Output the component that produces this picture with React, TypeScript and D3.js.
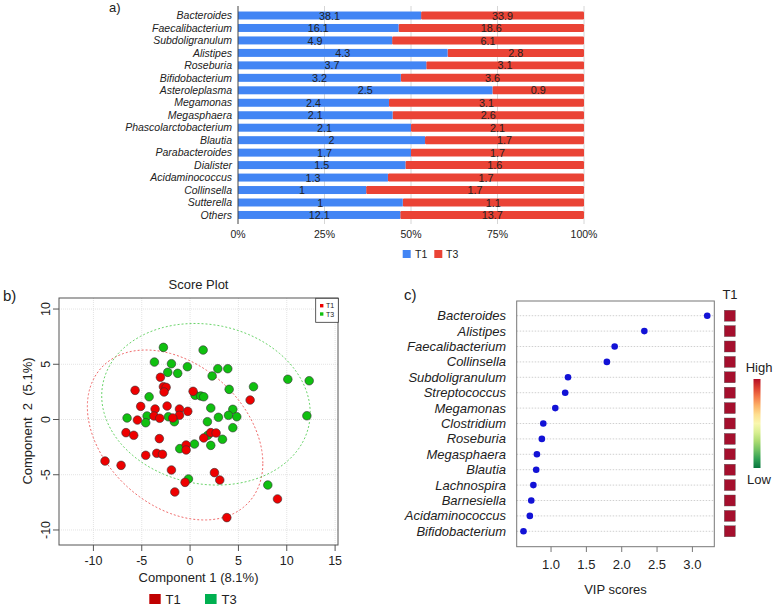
import React from "react";
import * as d3 from "d3";

// ---------- Panel a data ----------
const genera = [
  "Bacteroides", "Faecalibacterium", "Subdoligranulum", "Alistipes", "Roseburia",
  "Bifidobacterium", "Asteroleplasma", "Megamonas", "Megasphaera", "Phascolarctobacterium",
  "Blautia", "Parabacteroides", "Dialister", "Acidaminococcus", "Collinsella", "Sutterella", "Others",
];
const t1Values = [38.1, 16.1, 4.9, 4.3, 3.7, 3.2, 2.5, 2.4, 2.1, 2.1, 2, 1.7, 1.5, 1.3, 1, 1, 12.1];
const t3Values = [33.9, 18.6, 6.1, 2.8, 3.1, 3.6, 0.9, 3.1, 2.6, 2.1, 1.7, 1.7, 1.6, 1.7, 1.7, 1.1, 13.7];
const pctTicks = [0, 0.25, 0.5, 0.75, 1];

// ---------- Panel b data ----------
const t1Scores: [number, number][] = [
  [-3.07, 3.82], [-2.76, 2.97], [-2.48, 2.91], [-2.69, 2.49], [-5.69, 2.64], [0.31, 2.55],
  [6.21, 1.76], [-5.11, 1.19], [-2.38, 1.22], [-3.62, 0.95], [-1.1, 0.95], [-3.73, 0.32],
  [-3.14, 0.11], [-1.1, 0.38], [-0.24, 0.74], [-1.79, 0.14], [-5.45, -0.05], [-6.63, -1.19],
  [-5.83, -1.43], [-3.18, -1.73], [1.41, -1.67], [2.14, -1.19], [2.69, -1.22], [-4.59, -3.24],
  [-3.45, -3.06], [-2.86, -3.15], [-0.41, -2.31], [-0.41, -2.76], [-8.8, -3.76], [-7.14, -4.15],
  [-1.93, -4.57], [-0.52, -5.69], [-1.58, -6.56], [2.52, -4.81], [3.07, -5.48], [3.8, -8.88],
  [9.04, -7.19],
];
const t3Scores: [number, number][] = [
  [-2.76, 6.53], [1.35, 6.29], [-3.69, 5.2], [-1.93, 5.05], [-2.31, 4.27], [-1.28, 4.18],
  [-0.28, 4.78], [2.87, 4.6], [3.9, 4.6], [2.28, 3.94], [10.11, 3.64], [12.32, 3.51],
  [6.56, 2.97], [4.04, 2.73], [-4.24, 2.06], [0.52, 2.19], [1.1, 2.13], [1.41, 2.06],
  [2.14, 1.04], [4.42, 0.92], [3.97, 0.38], [4.83, 0.25], [2.93, 0.2], [12.08, 0.34],
  [-6.52, 0.14], [-4.45, 0.32], [-4.59, -0.29], [-2.25, 0.25], [-1.63, -0.2], [1.79, -0.2],
  [4.42, -0.74], [3.35, -1.79], [1.83, -1.43], [2.14, -2.34], [0.45, -2.22], [-1.07, -2.64],
  [-0.17, -5.38], [8.04, -5.93],
];
// confidence ellipses: centre and covariance (data units)
const t1Ellipse = { cx: -1.55, cy: -1.4, sxx: 82.4, syy: 59.2, sxy: -23.25 };
const t3Ellipse = { cx: 1.64, cy: 1.38, sxx: 116.3, syy: 53.5, sxy: -8.4 };
const scoreXTicks = [-10, -5, 0, 5, 10, 15];
const scoreYTicks = [-10, -5, 0, 5, 10];

// ---------- Panel c data ----------
const vipGenera = [
  "Bacteroides", "Alistipes", "Faecalibacterium", "Collinsella", "Subdoligranulum",
  "Streptococcus", "Megamonas", "Clostridium", "Roseburia", "Megasphaera", "Blautia",
  "Lachnospira", "Barnesiella", "Acidaminococcus", "Bifidobacterium",
];
const vipScores = [3.21, 2.32, 1.9, 1.79, 1.24, 1.2, 1.06, 0.89, 0.87, 0.8, 0.79, 0.75, 0.72, 0.7, 0.61];
const vipTicks = [1.0, 1.5, 2.0, 2.5, 3.0];

const FONT = "'Liberation Sans', Arial, sans-serif";
const BLUE = "#4285F4";
const RED = "#EA4335";

function ellipsePath(e: { cx: number; cy: number; sxx: number; syy: number; sxy: number },
  xs: d3.ScaleLinear<number, number>, ys: d3.ScaleLinear<number, number>) {
  const l11 = Math.sqrt(e.sxx);
  const l21 = e.sxy / l11;
  const l22 = Math.sqrt(e.syy - l21 * l21);
  const pts: [number, number][] = d3.range(0, 120).map((i) => {
    const t = (i / 120) * Math.PI * 2;
    return [xs(e.cx + l11 * Math.cos(t)), ys(e.cy + l21 * Math.cos(t) + l22 * Math.sin(t))];
  });
  return d3.line().curve(d3.curveLinearClosed)(pts) as string;
}

export default function App() {
  // Panel a scales
  const xA = d3.scaleLinear().domain([0, 1]).range([238, 584]);
  const yA = d3.scaleBand<string>().domain(genera).range([9.27, 221.2]).paddingInner(0.36).paddingOuter(0.18);

  // Panel b scales
  const xB = d3.scaleLinear().domain([-13.56, 15.3]).range([59, 338]);
  const yB = d3.scaleLinear().domain([-11.36, 11.0]).range([545, 298]);

  // Panel c scales
  const xC = d3.scaleLinear().domain([0.514, 3.31]).range([516.7, 714.3]);
  const yC = d3.scalePoint<string>().domain(vipGenera).range([315.7, 531.3]);

  const gradStops = d3.range(0, 11).map((i) => i / 10);

  return (
    <svg width={777} height={608} style={{ position: "absolute", left: 0, top: 0, background: "#fff" }}
      fontFamily={FONT}>
      <defs>
        <linearGradient id="rdylgn" x1="0" y1="0" x2="0" y2="1">
          {gradStops.map((s) => (
            <stop key={s} offset={s} stopColor={d3.interpolateRdYlGn(0.03 + s * 0.94)} />
          ))}
        </linearGradient>
      </defs>

      {/* ================= Panel a ================= */}
      <text x={109} y={12} fontSize={13} fill="#222">a)</text>
      {pctTicks.slice(1).map((t) => (
        <line key={t} x1={xA(t)} x2={xA(t)} y1={6} y2={224} stroke="#d6d6d6" strokeWidth={1} />
      ))}
      {genera.map((g, i) => {
        const p = t1Values[i] / (t1Values[i] + t3Values[i]);
        const y0 = yA(g) as number;
        const bw = yA.bandwidth();
        return (
          <g key={g}>
            <rect x={xA(p)} y={y0} width={xA(1) - xA(p)} height={bw} fill={RED} rx={1.2} />
            <rect x={xA(0)} y={y0} width={xA(p) - xA(0)} height={bw} fill={BLUE} />
            <text x={xA(0) - 6} y={y0 + bw / 2} dy="0.35em" textAnchor="end" fontSize={10.5}
              fontStyle="italic" fill="#222">{g}</text>
            <text x={(xA(0) + xA(p)) / 2} y={y0 + bw / 2} dy="0.38em" textAnchor="middle" fontSize={10.8}
              fill="#222">{t1Values[i]}</text>
            <text x={(xA(p) + xA(1)) / 2} y={y0 + bw / 2} dy="0.38em" textAnchor="middle" fontSize={10.8}
              fill="#222">{t3Values[i]}</text>
          </g>
        );
      })}
      <line x1={xA(0)} x2={xA(0)} y1={6} y2={224} stroke="#444" strokeWidth={1} />
      {pctTicks.map((t) => (
        <text key={t} x={xA(t)} y={238} textAnchor="middle" fontSize={10.5} fill="#222">
          {`${Math.round(t * 100)}%`}
        </text>
      ))}
      <rect x={402.7} y={250} width={8} height={8} fill={BLUE} />
      <text x={415} y={257.6} fontSize={10.5} fill="#222">T1</text>
      <rect x={434.3} y={250} width={8} height={8} fill={RED} />
      <text x={446} y={257.6} fontSize={10.5} fill="#222">T3</text>

      {/* ================= Panel b ================= */}
      <text x={3} y={301} fontSize={15} fill="#222">b)</text>
      <text x={198.5} y={289} textAnchor="middle" fontSize={13} fill="#222">Score Plot</text>
      {scoreXTicks.map((t) => (
        <line key={"gx" + t} x1={xB(t)} x2={xB(t)} y1={298} y2={545} stroke="#e3e3e3" strokeDasharray="1,1" />
      ))}
      {scoreYTicks.map((t) => (
        <line key={"gy" + t} x1={59} x2={338} y1={yB(t)} y2={yB(t)} stroke="#e3e3e3" strokeDasharray="1,1" />
      ))}
      <path d={ellipsePath(t1Ellipse, xB, yB)} fill="none" stroke="#f06a6a" strokeWidth={1} strokeDasharray="2,2" />
      <path d={ellipsePath(t3Ellipse, xB, yB)} fill="none" stroke="#6ad46a" strokeWidth={1} strokeDasharray="2,2" />
      {t3Scores.map(([x, y], i) => (
        <circle key={"g" + i} cx={xB(x)} cy={yB(y)} r={4.3} fill="#10c010" stroke="#333" strokeWidth={0.6} />
      ))}
      {t1Scores.map(([x, y], i) => (
        <circle key={"r" + i} cx={xB(x)} cy={yB(y)} r={4.3} fill="#ee0000" stroke="#333" strokeWidth={0.6} />
      ))}
      <rect x={59} y={298} width={279} height={247} fill="none" stroke="#555" strokeWidth={1} />
      {scoreXTicks.map((t) => (
        <g key={"xt" + t}>
          <line x1={xB(t)} x2={xB(t)} y1={545} y2={551} stroke="#555" />
          <text x={xB(t)} y={565} textAnchor="middle" fontSize={12.5} fill="#222">{t}</text>
        </g>
      ))}
      {scoreYTicks.map((t) => (
        <g key={"yt" + t}>
          <line x1={53} x2={59} y1={yB(t)} y2={yB(t)} stroke="#555" />
          <text transform={`translate(50,${yB(t)}) rotate(-90)`} textAnchor="middle" fontSize={12.5} fill="#222">{t}</text>
        </g>
      ))}
      <text x={198.5} y={582} textAnchor="middle" fontSize={13} fill="#222">Component 1 (8.1%)</text>
      <text transform="translate(32,421) rotate(-90)" textAnchor="middle" fontSize={13} fill="#222"
        style={{ whiteSpace: "pre" }}>{"Component  2  (5.1%)"}</text>
      {/* inner legend */}
      <rect x={315.7} y={298.3} width={22.6} height={24} fill="#fff" stroke="#333" strokeWidth={0.8} />
      <rect x={320} y={304} width={3.4} height={3.4} fill="#ee0000" />
      <text x={326} y={308.2} fontSize={7} fill="#222">T1</text>
      <rect x={320} y={312.3} width={3.4} height={3.4} fill="#10c010" />
      <text x={326} y={316.5} fontSize={7} fill="#222">T3</text>
      {/* bottom legend */}
      <rect x={149.3} y={594} width={11.4} height={10} fill="#C00000" />
      <text x={165.5} y={603.5} fontSize={13} fill="#222">T1</text>
      <rect x={205} y={594} width={11.6} height={10} fill="#00B050" />
      <text x={221.5} y={603.5} fontSize={13} fill="#222">T3</text>

      {/* ================= Panel c ================= */}
      <text x={404} y={300} fontSize={15} fill="#222">c)</text>
      {vipGenera.map((g) => (
        <line key={"cg" + g} x1={516.7} x2={714.3} y1={yC(g)} y2={yC(g)} stroke="#c4c4c4"
          strokeWidth={0.8} strokeDasharray="1.5,1.5" />
      ))}
      <rect x={516.7} y={301} width={197.6} height={245.7} fill="none" stroke="#777" strokeWidth={1} />
      {vipGenera.map((g, i) => (
        <g key={"cv" + g}>
          <text x={506} y={yC(g)} dy="0.35em" textAnchor="end" fontSize={13} fontStyle="italic" fill="#222">{g}</text>
          <circle cx={xC(vipScores[i])} cy={yC(g)} r={3.3} fill="#1212d6" />
          <rect x={724.3} y={(yC(g) as number) - 5.5} width={11} height={11} fill="#a50f2d" stroke="#555" strokeWidth={0.4} />
        </g>
      ))}
      {vipTicks.map((t) => (
        <g key={"vt" + t}>
          <line x1={xC(t)} x2={xC(t)} y1={546.7} y2={552} stroke="#777" />
          <text x={xC(t)} y={569} textAnchor="middle" fontSize={13} fill="#222">{t.toFixed(1)}</text>
        </g>
      ))}
      <text x={615.5} y={594} textAnchor="middle" fontSize={13} fill="#222">VIP scores</text>
      <text x={730} y={299} textAnchor="middle" fontSize={13} fill="#222">T1</text>
      <text x={759} y={372} textAnchor="middle" fontSize={13} fill="#222">High</text>
      <rect x={753.5} y={379} width={7} height={89} fill="url(#rdylgn)" />
      <text x={759} y={484} textAnchor="middle" fontSize={13} fill="#222">Low</text>
    </svg>
  );
}
